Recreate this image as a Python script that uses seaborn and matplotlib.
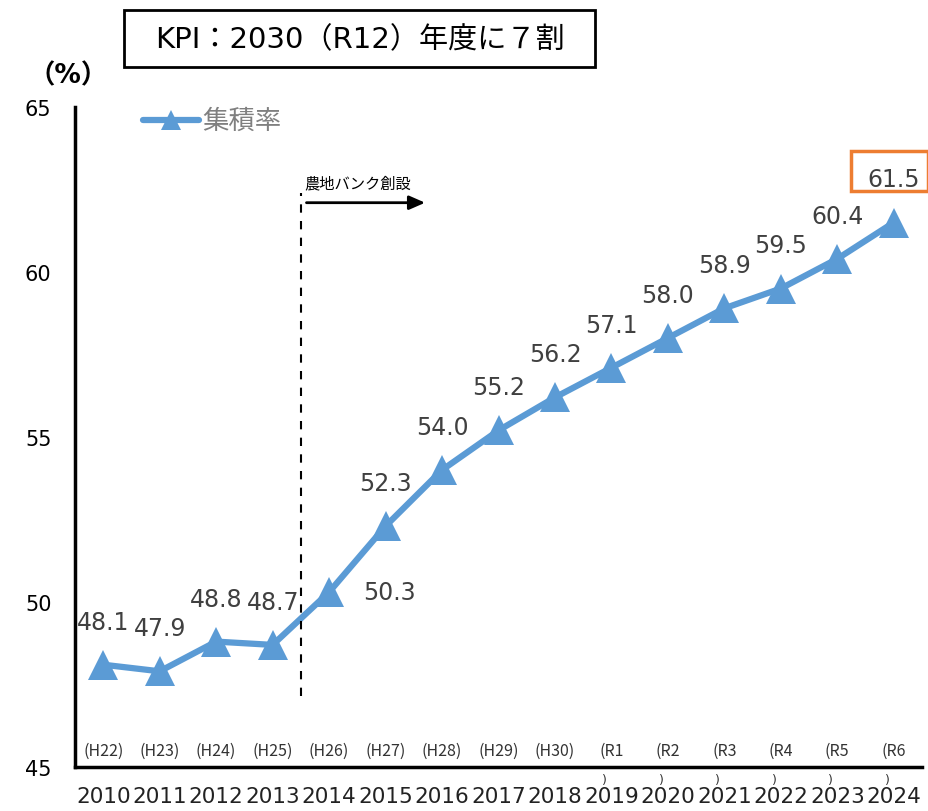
import matplotlib
matplotlib.use("Agg")
import matplotlib.pyplot as plt
import seaborn as sns
import pandas as pd
import numpy as np

years = ["2010", "2011", "2012", "2013", "2014", "2015", "2016", "2017",
         "2018", "2019", "2020", "2021", "2022", "2023", "2024"]
eras = ["(H22)", "(H23)", "(H24)", "(H25)", "(H26)", "(H27)", "(H28)", "(H29)",
        "(H30)", "(R1", "(R2", "(R3", "(R4", "(R5", "(R6"]
values = [48.1, 47.9, 48.8, 48.7, 50.3, 52.3, 54.0, 55.2, 56.2, 57.1, 58.0, 58.9, 59.5, 60.4, 61.5]

sns.set_theme(style="white")
plt.rcParams['font.family'] = ['Noto Sans CJK JP', 'DejaVu Sans']
LAT = ['DejaVu Sans', 'Noto Sans CJK JP']

df = pd.DataFrame({"x": np.arange(len(years)), "v": values})

fig = plt.figure(figsize=(9.29, 8.12), dpi=100)
ax = fig.add_axes([75/929, 1-768/812, (922-75)/929, (768-108)/812])

blue = "#5B9BD5"
sns.lineplot(data=df, x="x", y="v", ax=ax, color=blue, linewidth=4.5,
             marker="^", markersize=21, markeredgewidth=0, legend=False)
ax.set_xlabel("")
ax.set_ylabel("")

ax.set_xlim(-0.5, len(years) - 0.5)
ax.set_ylim(45, 65)
ax.set_yticks([45, 50, 55, 60, 65])
ax.set_yticklabels(["45", "50", "55", "60", "65"], fontsize=15, color="black", family=LAT)
ax.set_xticks(np.arange(len(years)))
ax.set_xticklabels(years, fontsize=15.5, color="#222222", family=LAT)
ax.set_xticks(np.arange(-0.5, len(years)), minor=True)
ax.tick_params(axis="x", which="major", length=0, pad=14)
ax.tick_params(axis="x", which="minor", length=8, width=2.5, color="black", direction="out")
ax.tick_params(axis="y", length=7, width=2.5, color="black", direction="out", pad=10)

for s in ["top", "right"]:
    ax.spines[s].set_visible(False)
for s in ["left", "bottom"]:
    ax.spines[s].set_color("black")
    ax.spines[s].set_linewidth(2.5)

# era labels
for i, e in enumerate(eras):
    ax.text(i, 45.5, e, ha="center", va="center", fontsize=11.5, color="#333333")
    if e.startswith("(R"):
        ax.text(i - 0.12, 44.62, ")", ha="center", va="center", fontsize=9,
                color="#333333", clip_on=False, family=LAT)

# value labels
lab_color = "#404040"
for i, v in enumerate(values):
    if i == 4:
        ax.annotate(f"{v:.1f}", (i, v), xytext=(60, 0), textcoords="offset pixels",
                    ha="center", va="center", fontsize=17, color=lab_color, family=LAT)
    else:
        ax.annotate(f"{v:.1f}", (i, v), xytext=(0, 43), textcoords="offset pixels",
                    ha="center", va="center", fontsize=17, color=lab_color, family=LAT)

# orange box around last label
fig.patches.append(matplotlib.patches.Rectangle((851/929, 1-192/812), 77/929, 40/812,
                   transform=fig.transFigure, fill=False, edgecolor="#ED7D31", linewidth=2.5))

# dashed vertical line
ax.plot([3.5, 3.5], [47.15, 62.4], color="black", linestyle=(0, (4, 4)), linewidth=1.5)
ax.text(3.57, 62.7, "農地バンク創設", fontsize=11, color="black", ha="left", va="center")
ax.annotate("", xy=(5.75, 62.1), xytext=(3.55, 62.1),
            arrowprops=dict(arrowstyle="-|>,head_length=0.8,head_width=0.35", color="black", lw=2))

# legend
ax.plot([0.7, 1.7], [64.6, 64.6], color=blue, linewidth=4.5, solid_capstyle="round")
ax.plot([1.2], [64.6], marker="^", markersize=15, color=blue, markeredgewidth=0)
ax.text(1.75, 64.6, "集積率", fontsize=19, color="#808080", ha="left", va="center")

# title box
fig.text(360/929, 1-40/812, "KPI：2030（R12）年度に７割", fontsize=21, ha="center", va="center",
         color="black", family=LAT)
fig.patches.append(matplotlib.patches.Rectangle((124/929, 1-68/812), 471/929, 57/812,
                   transform=fig.transFigure, fill=False, edgecolor="black", linewidth=2))

# unit
fig.text(68/929, 1-76/812, "（%）", fontsize=19, ha="center", va="center",
         color="black", fontweight="bold", family=LAT)

fig.savefig("out.png", dpi=100)
